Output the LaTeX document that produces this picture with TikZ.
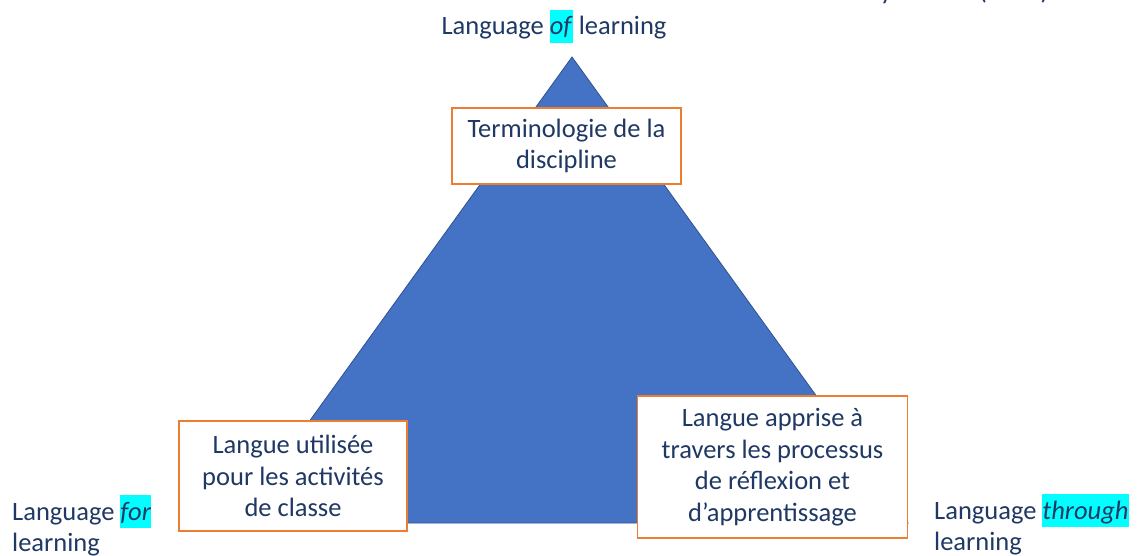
\documentclass[tikz,border=0pt]{standalone}
\usepackage{fontspec}
\setmainfont{Carlito}
\definecolor{navy}{HTML}{1F3864}
\definecolor{triblue}{HTML}{4472C4}
\definecolor{triedge}{HTML}{2F528F}
\definecolor{boxorange}{HTML}{ED7D31}
\definecolor{hlcyan}{HTML}{00FFFF}
\newcommand{\hlword}[1]{{\setlength{\fboxsep}{0pt}\colorbox{hlcyan}{\rule[-8pt]{0pt}{33pt}\textit{#1}}}}
\begin{document}
\begin{tikzpicture}[x=1pt,y=-1pt,
  every node/.style={font=\fontsize{26.5}{31.5}\selectfont, text=navy},
  textbox/.style={draw=boxorange, line width=1.5pt, fill=white, align=center, inner sep=0pt},
  outerlabel/.style={inner sep=0pt, align=left}]
\useasboundingbox (0,0) rectangle (1148,556);
% triangle
\coordinate (apex) at (572,57);
\coordinate (bright) at (908,523);
\coordinate (bleft) at (236,523);
\fill[triblue, draw=triedge, line width=0.8pt] (apex) -- (bright) -- (bleft) -- cycle;
% boxes
\node[textbox, minimum width=229pt, minimum height=76pt] (term) at (566.5,146) {Terminologie de la\\discipline};
\node[textbox, minimum width=228pt, minimum height=110pt] (util) at (293,476) {Langue utilisée\\pour les activités\\de classe};
\node[textbox, minimum width=270pt, minimum height=142pt] (appr) at (772.5,467) {Langue apprise à\\travers les processus\\de réflexion et\\d’apprentissage};
% outer labels
\node[inner sep=0pt, anchor=base] (of) at (554,35) {Language \hlword{of} learning};
\node[outerlabel, anchor=north west] (for) at (12,495) {Language \hlword{for}\\learning};
\node[outerlabel, anchor=north west] (through) at (934,494) {Language \hlword{through}\\learning};
% cut-off citation at the top edge
\node[inner sep=0pt, anchor=base east] (cite) at (1049,-0.5) {Coyle et al. (2010)};
\end{tikzpicture}
\end{document}
